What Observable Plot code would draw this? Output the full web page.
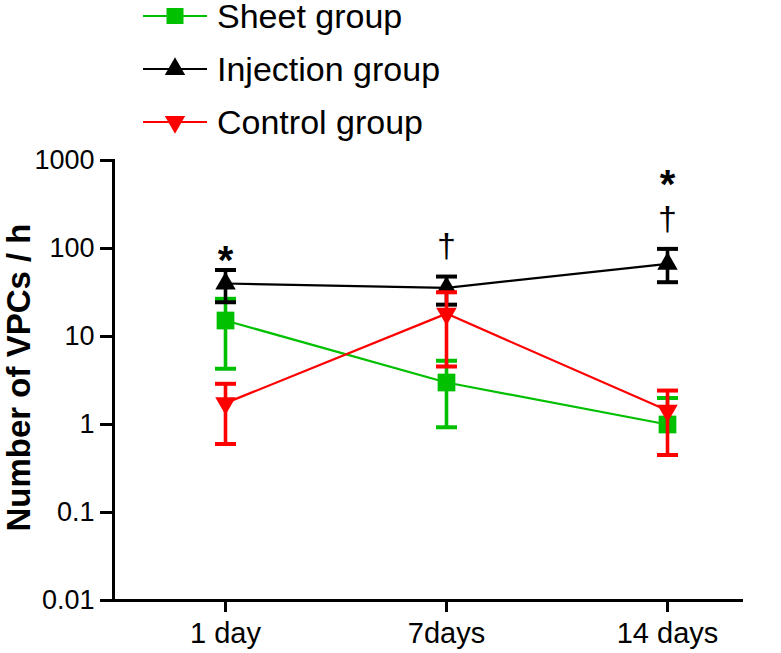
<!DOCTYPE html>
<html><head><meta charset="utf-8">
<script src="https://cdn.jsdelivr.net/npm/d3@7"></script>
<script src="https://cdn.jsdelivr.net/npm/@observablehq/plot@0.6"></script>
<style>
body{margin:0;background:#fff;}
#wrap{position:relative;width:781px;height:653px;font-family:"Liberation Sans",Arial,sans-serif;}
#legend{position:absolute;left:0;top:0;}
</style></head><body><div id="wrap"></div>
<script>
// ---- data ----
const days = ["1 day", "7days", "14 days"];
const groups = ["Sheet group", "Injection group", "Control group"];
const colors = ["#00c000", "#000000", "#ff0000"];
const symbols = ["square", "triangle", "triangle-down"];

const sheetMean = [15.2, 3.0, 1.0];
const sheetHigh = [26.8, 5.3, 2.0];
const sheetLow  = [4.3, 0.93, 1.0];

const injMean = [40, 35.7, 67];
const injHigh = [57, 48, 99];
const injLow  = [24.5, 23, 41.4];

const ctlMean = [1.75, 18.2, 1.44];
const ctlHigh = [2.9, 31.8, 2.43];
const ctlLow  = [0.6, 4.56, 0.45];

const yTicks = [0.01, 0.1, 1, 10, 100, 1000];
const yTickLabels = ["0.01", "0.1", "1", "10", "100", "1000"];
const yTitle = "Number of VPCs / h";

// significance marks (placed above the injection group's upper bar, stacked in order)
const annotDays = ["1 day", "7days", "14 days", "14 days"];
const annotSymbols = ["*", "†", "†", "*"];

// ---- build table ----
const series = [
  {mean: sheetMean, hi: sheetHigh, lo: sheetLow},
  {mean: injMean, hi: injHigh, lo: injLow},
  {mean: ctlMean, hi: ctlHigh, lo: ctlLow}
];
const rows = [];
groups.forEach((g, gi) => days.forEach((d, di) => rows.push({
  group: g, gi, day: d, mean: series[gi].mean[di], hi: series[gi].hi[di], lo: series[gi].lo[di]
})));

const annots = [];
const levelCount = {};
annotDays.forEach((d, i) => {
  const level = levelCount[d] || 0; levelCount[d] = level + 1;
  const di = days.indexOf(d);
  annots.push({day: d, sym: annotSymbols[i], level, hi: injHigh[di]});
});

const capSymbol = {draw(ctx, size) { const w = Math.sqrt(size / Math.PI); ctx.moveTo(-w, 0); ctx.lineTo(w, 0); }};

const marks = [];
groups.forEach((g, gi) => {
  const data = rows.filter(r => r.gi === gi);
  const c = colors[gi];
  marks.push(Plot.line(data, {x: "day", y: "mean", stroke: c, strokeWidth: 2.2}));
  marks.push(Plot.ruleX(data, {x: "day", y1: "lo", y2: "hi", stroke: c, strokeWidth: 3.6}));
  marks.push(Plot.dot(data, {x: "day", y: "hi", symbol: capSymbol, r: 10.5, stroke: c, strokeWidth: 4, fill: "none"}));
  marks.push(Plot.dot(data.filter(r => r.lo < r.mean), {x: "day", y: "lo", symbol: capSymbol, r: 10.5, stroke: c, strokeWidth: 4, fill: "none"}));
  if (symbols[gi] === "square") {
    marks.push(Plot.dot(data, {x: "day", y: "mean", symbol: "square", r: 10, fill: c, stroke: "none"}));
  } else {
    marks.push(Plot.dot(data, {x: "day", y: "mean", symbol: "triangle", r: 7.6, fill: c, stroke: "none",
      rotate: symbols[gi] === "triangle-down" ? 180 : 0}));
  }
});

// annotations
const daggerOff = -30, starOff = -9, levelGap = 47;
[0, 1].forEach(level => {
  marks.push(Plot.text(annots.filter(a => a.level === level && a.sym === "†"), {
    x: "day", y: "hi", text: "sym", fontSize: 34, dy: daggerOff - levelGap * level, fill: "#000"}));
  marks.push(Plot.text(annots.filter(a => a.level === level && a.sym === "*"), {
    x: "day", y: "hi", text: "sym", fontSize: 40, fontWeight: "bold", dy: starOff - levelGap * level - (level ? 8 : 0), fill: "#000"}));
});

marks.push(Plot.axisY({ticks: yTicks, tickFormat: d => yTickLabels[yTicks.indexOf(d)], tickSize: 13, tickPadding: 6,
  fontSize: 27, strokeWidth: 3, label: null}));
marks.push(Plot.axisX({tickSize: 12, tickPadding: 10, fontSize: 29, strokeWidth: 3, label: null}));
marks.push(Plot.frame({anchor: "left", strokeWidth: 3}));
marks.push(Plot.frame({anchor: "bottom", strokeWidth: 3}));
marks.push(Plot.text([yTitle], {frameAnchor: "left", textAnchor: "middle", dx: -94, dy: -3, rotate: -90, fontSize: 33, fontWeight: "bold", fill: "#000"}));

const chart = Plot.plot({
  width: 781, height: 653,
  marginTop: 160, marginBottom: 53, marginLeft: 113, marginRight: 40,
  x: {type: "point", domain: days, range: [224, 667], padding: 0},
  y: {type: "log", domain: [0.01, 1000], range: [600, 160]},
  style: {fontFamily: "'Liberation Sans', Arial, sans-serif", color: "#000", background: "#fff", overflow: "visible"},
  marks
});
const wrap = document.getElementById("wrap");
wrap.appendChild(chart);

// ---- legend (overlay above the plot area) ----
const leg = d3.select(wrap).append("svg").attr("id", "legend").attr("width", 781).attr("height", 150)
  .style("font-family", "'Liberation Sans', Arial, sans-serif");
groups.forEach((g, gi) => {
  const y = 16 + gi * 53, c = colors[gi];
  const row = leg.append("g");
  row.append("line").attr("x1", 143).attr("x2", 207).attr("y1", y).attr("y2", y).attr("stroke", c).attr("stroke-width", 2.2);
  if (symbols[gi] === "square") {
    row.append("rect").attr("x", 175 - 8.5).attr("y", y - 8).attr("width", 17).attr("height", 16).attr("fill", c);
  } else {
    const p = d3.symbol(d3.symbolTriangle, 180)();
    row.append("path").attr("d", p).attr("fill", c)
      .attr("transform", `translate(175,${y})` + (symbols[gi] === "triangle-down" ? " rotate(180)" : ""));
  }
  row.append("text").attr("x", 217).attr("y", y + 12).attr("font-size", 34).attr("fill", "#000").text(g);
});
</script></body></html>
